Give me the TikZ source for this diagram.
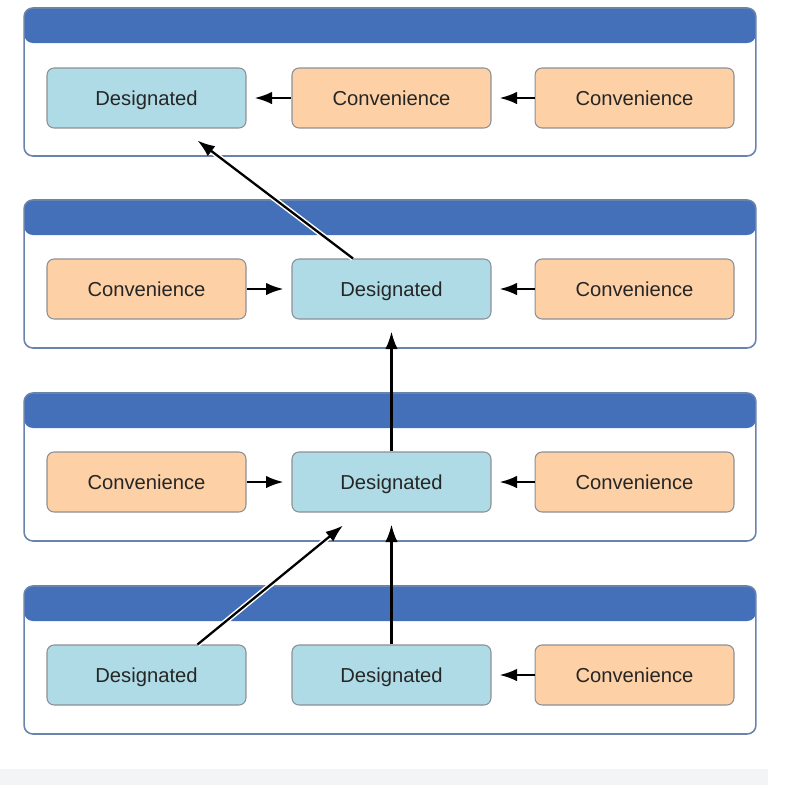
\documentclass[tikz,border=0pt]{standalone}
\usepackage{fontspec}
\setmainfont{Liberation Sans}
\usepackage{xcolor}
\usetikzlibrary{arrows.meta, positioning}
\definecolor{hdrblue}{HTML}{4370B8}
\definecolor{panelline}{HTML}{6A83AE}
\definecolor{desfill}{HTML}{AEDBE5}
\definecolor{confill}{HTML}{FDD0A5}
\definecolor{boxline}{HTML}{8C9096}
\definecolor{stripgray}{HTML}{F3F4F6}

\begin{document}
\begin{tikzpicture}[
  x=0.02cm, y=-0.02cm,
  font=\fontsize{11.5}{13}\selectfont,
  panel/.style={draw=panelline, line width=0.9pt, rounded corners=5pt, fill=white,
                minimum width=14.64cm, minimum height=2.96cm, inner sep=0pt,
                path picture={\fill[hdrblue] (path picture bounding box.north west)
                  rectangle ([yshift=-0.7cm]path picture bounding box.north east);}},
  box/.style={draw=boxline, line width=0.6pt, rounded corners=4pt,
              minimum width=3.98cm, minimum height=1.2cm, text=black!85,
              text height=2ex, text depth=0.3ex},
  des/.style={box, fill=desfill},
  con/.style={box, fill=confill},
  ar/.style={-{Latex[length=3.5mm, width=2.5mm]}, line width=1.3pt},
  dia/.style={ar, preaction={draw=white, line width=3pt, -}}
]
\useasboundingbox (0,0) rectangle (794,785);
\fill[stripgray] (0,769) rectangle (768,785);
% panels
\node[panel] (p1) at (390,82)  {};
\node[panel] (p2) at (390,274) {};
\node[panel] (p3) at (390,467) {};
\node[panel] (p4) at (390,660) {};
% row 1
\node[des] (n11) at (146.5,98) {Designated};
\node[con] (n12) at (391.5,98) {Convenience};
\node[con] (n13) at (634.5,98) {Convenience};
% row 2
\node[con] (n21) at (146.5,289) {Convenience};
\node[des] (n22) at (391.5,289) {Designated};
\node[con] (n23) at (634.5,289) {Convenience};
% row 3
\node[con] (n31) at (146.5,482) {Convenience};
\node[des] (n32) at (391.5,482) {Designated};
\node[con] (n33) at (634.5,482) {Convenience};
% row 4
\node[des] (n41) at (146.5,675) {Designated};
\node[des] (n42) at (391.5,675) {Designated};
\node[con] (n43) at (634.5,675) {Convenience};
% within a class
\draw[ar, shorten >=0.16cm] (n12.west) -- (n11.east);
\draw[ar, shorten >=0.16cm] (n13.west) -- (n12.east);
\draw[ar, shorten >=0.16cm] (n21.east) -- (n22.west);
\draw[ar, shorten >=0.16cm] (n23.west) -- (n22.east);
\draw[ar, shorten >=0.16cm] (n31.east) -- (n32.west);
\draw[ar, shorten >=0.16cm] (n33.west) -- (n32.east);
\draw[ar, shorten >=0.16cm] (n43.west) -- (n42.east);
% up to the superclass
\coordinate (t1) at ([xshift=1.02cm, yshift=-0.24cm]n11.south);
\coordinate (t3) at ([xshift=-0.97cm, yshift=-0.26cm]n32.south);
\draw[dia] ([xshift=-0.77cm]n22.north) -- (t1);
\draw[ar, shorten >=0.24cm] (n32.north) -- (n22.south);
\draw[ar, shorten >=0.24cm] (n42.north) -- (n32.south);
\draw[dia] ([xshift=1.02cm]n41.north) -- (t3);
\end{tikzpicture}
\end{document}
